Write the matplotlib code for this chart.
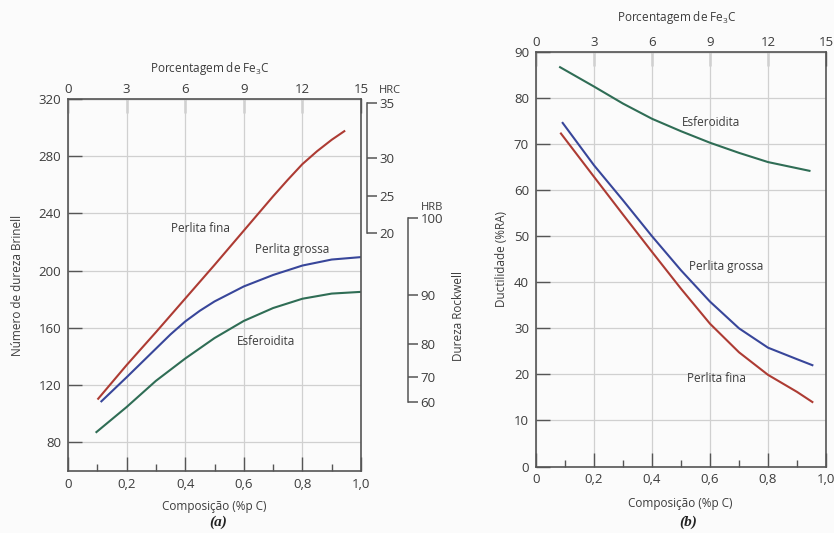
import numpy as np
import matplotlib.pyplot as plt
import matplotlib.transforms as mtransforms

plt.rcParams['font.family'] = ['Open Sans', 'DejaVu Sans']
plt.rcParams['mathtext.fontset'] = 'custom'
plt.rcParams['mathtext.rm'] = 'Open Sans'

# (a) Brinell hardness vs carbon content
c_fina_a = [0.103, 0.20, 0.30, 0.40, 0.50, 0.60, 0.70, 0.75, 0.80, 0.85, 0.90, 0.943]
hb_fina = [110.5, 134, 157, 180.5, 204, 228, 252, 263.5, 274.5, 283.5, 291.5, 297.5]
c_grossa_a = [0.114, 0.20, 0.30, 0.35, 0.40, 0.45, 0.50, 0.60, 0.70, 0.80, 0.90, 1.00]
hb_grossa = [108.7, 125.5, 145.5, 155.5, 164.5, 172, 178.5, 189, 197, 203.6, 207.8, 209.5]
c_esf_a = [0.097, 0.20, 0.30, 0.40, 0.50, 0.60, 0.70, 0.80, 0.90, 1.00]
hb_esf = [87.2, 104.7, 123, 138.6, 152.9, 164.9, 173.9, 180.4, 184, 185.2]

# Rockwell scales expressed at their Brinell equivalents
hrc_labels = ['35', '30', '25', '20']
hrc_hb = [317, 279, 252, 226]
hrb_labels = ['100', '90', '80', '70', '60']
hrb_hb = [237, 183, 149, 126, 108]

# (b) ductility vs carbon content
c_esf_b = [0.083, 0.20, 0.30, 0.40, 0.50, 0.60, 0.70, 0.80, 0.943]
ra_esf = [86.7, 82.5, 78.8, 75.5, 72.8, 70.3, 68.1, 66.1, 64.2]
c_grossa_b = [0.092, 0.20, 0.30, 0.40, 0.50, 0.60, 0.70, 0.80, 0.90, 0.953]
ra_grossa = [74.6, 65.4, 57.8, 50.0, 42.6, 35.8, 30.0, 25.8, 23.3, 22.0]
c_fina_b = [0.086, 0.20, 0.30, 0.40, 0.50, 0.60, 0.70, 0.80, 0.90, 0.953]
ra_fina = [72.3, 62.9, 54.7, 46.6, 38.6, 31.0, 24.8, 19.9, 16.2, 14.0]

x_ticks = [0, 0.2, 0.4, 0.6, 0.8, 1.0]
x_labels = ['0', '0,2', '0,4', '0,6', '0,8', '1,0']
fe3c_ticks = [0, 3, 6, 9, 12, 15]

RED = '#ad3b33'
BLUE = '#38469a'
GREEN = '#2f6d55'
TXT = '#3c3c3c'
FRAME = '#555555'
GRID = '#d0d0d0'
W, H = 834, 533

fig = plt.figure(figsize=(W / 100, H / 100), dpi=100, facecolor='#fbfbfb')


def box(x0, y0, x1, y1):
    # pixel box (top-left origin) -> figure fraction rect
    return [x0 / W, 1 - y1 / H, (x1 - x0) / W, (y1 - y0) / H]


def style_axes(ax, ymin, ymax, yticks):
    ax.set_facecolor('none')
    ax.set_axisbelow(True)
    ax.set_xlim(0, 1.0)
    ax.set_ylim(ymin, ymax)
    ax.set_xticks(x_ticks)
    ax.set_xticklabels(x_labels)
    ax.set_xticks([0.1, 0.3, 0.5, 0.7, 0.9], minor=True)
    ax.set_yticks(yticks)
    ax.tick_params(which='major', direction='in', length=10, width=1.0, color=FRAME,
                   labelsize=9.5, labelcolor=TXT, pad=5)
    ax.tick_params(which='minor', direction='in', length=5, width=1.0, color=FRAME)
    ax.grid(True, which='major', color=GRID, linewidth=0.9)
    for s in ax.spines.values():
        s.set_color(FRAME)
        s.set_linewidth(1.2)
    top = ax.secondary_xaxis('top', functions=(lambda c: c * 15, lambda p: p / 15))
    top.set_xticks(fe3c_ticks)
    top.tick_params(direction='in', length=10, width=1.0, color=FRAME,
                    labelsize=9.5, labelcolor=TXT, pad=2)
    ax.xaxis.label.set_va('center')
    return top


def rockwell_scale(ax, offset, ticks, labels):
    sc = ax.twinx()
    sc.set_ylim(ax.get_ylim())
    for s in ['top', 'bottom', 'left']:
        sc.spines[s].set_visible(False)
    sc.spines['right'].set_position(('outward', offset))
    sc.spines['right'].set_bounds(min(ticks), max(ticks))
    sc.spines['right'].set_color(FRAME)
    sc.spines['right'].set_linewidth(1.1)
    sc.set_yticks(ticks)
    sc.set_yticklabels(labels)
    sc.tick_params(direction='out', length=7, width=1.1, color=FRAME, labelsize=9.5,
                   labelcolor=TXT, pad=2)
    return sc


# ---------------- (a) ----------------
ax1 = fig.add_axes(box(68, 99, 361, 471))
style_axes(ax1, 60, 320, [80, 120, 160, 200, 240, 280, 320])
ax1.plot(c_fina_a, hb_fina, color=RED, lw=1.5)
ax1.plot(c_grossa_a, hb_grossa, color=BLUE, lw=1.5)
ax1.plot(c_esf_a, hb_esf, color=GREEN, lw=1.5)
ax1.text(0.452, 229.4, 'Perlita fina', fontsize=8.5, color=TXT, ha='center', va='center')
ax1.text(0.766, 215, 'Perlita grossa', fontsize=8.5, color=TXT, ha='center', va='center')
ax1.text(0.675, 150.5, 'Esferoidita', fontsize=8.5, color=TXT, ha='center', va='center')
ax1.set_ylabel('Número de dureza Brinell', fontsize=8.5, color=TXT)
ax1.yaxis.set_label_coords(-0.150, 0.5)
ax1.set_xlabel('Composição (%p C)', fontsize=8.5, color=TXT)
ax1.xaxis.set_label_coords(0.50, -0.095)
ax1.text(0.485, 1.083, 'Porcentagem de Fe$_\\mathrm{3}$C', transform=ax1.transAxes,
         fontsize=8.5, color=TXT, ha='center', va='center')

rockwell_scale(ax1, 4.3, hrc_hb, hrc_labels)
rockwell_scale(ax1, 34, hrb_hb, hrb_labels)

blend = mtransforms.blended_transform_factory(ax1.transAxes, ax1.transData)
ax1.text(1.10, 326, 'HRC', transform=blend, fontsize=8, color=TXT, ha='center', va='center')
ax1.text(1.241, 244, 'HRB', transform=blend, fontsize=8, color=TXT, ha='center', va='center')
ax1.text(1.332, 168, 'Dureza Rockwell', transform=blend, fontsize=8.5, color=TXT,
         ha='center', va='center', rotation=90)

fig.text(218 / W, 1 - 522 / H, '(a)', fontsize=11, style='italic', weight='bold',
         family=['Liberation Serif', 'DejaVu Serif'], color='#222222', ha='center', va='center')

# ---------------- (b) ----------------
ax2 = fig.add_axes(box(536, 52, 826, 466.5))
style_axes(ax2, 0, 90, [0, 10, 20, 30, 40, 50, 60, 70, 80, 90])
ax2.plot(c_esf_b, ra_esf, color=GREEN, lw=1.5)
ax2.plot(c_grossa_b, ra_grossa, color=BLUE, lw=1.5)
ax2.plot(c_fina_b, ra_fina, color=RED, lw=1.5)
ax2.text(0.602, 74.8, 'Esferoidita', fontsize=8.5, color=TXT, ha='center', va='center')
ax2.text(0.655, 43.5, 'Perlita grossa', fontsize=8.5, color=TXT, ha='center', va='center')
ax2.text(0.623, 19.0, 'Perlita fina', fontsize=8.5, color=TXT, ha='center', va='center')
ax2.set_ylabel('Ductilidade (%RA)', fontsize=8.5, color=TXT)
ax2.yaxis.set_label_coords(-0.097, 0.5)
ax2.set_xlabel('Composição (%p C)', fontsize=8.5, color=TXT)
ax2.xaxis.set_label_coords(0.497, -0.090)
ax2.text(0.486, 1.084, 'Porcentagem de Fe$_\\mathrm{3}$C', transform=ax2.transAxes,
         fontsize=8.5, color=TXT, ha='center', va='center')

fig.text(688 / W, 1 - 522 / H, '(b)', fontsize=11, style='italic', weight='bold',
         family=['Liberation Serif', 'DejaVu Serif'], color='#222222', ha='center', va='center')

fig.savefig('out.png', dpi=100, facecolor=fig.get_facecolor())
